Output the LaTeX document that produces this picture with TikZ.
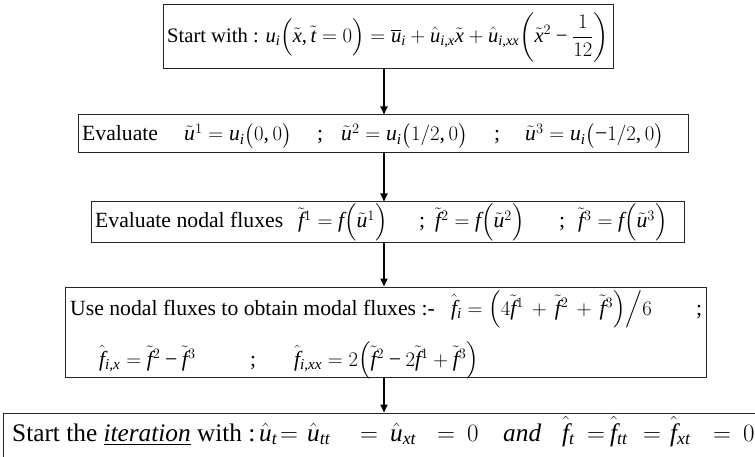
\documentclass[tikz,border=0pt]{standalone}
\usepackage{amsmath}
\usepackage{fontspec}
\setmainfont{Liberation Serif}
\newfontfamily\mtimesfam[NFSSFamily=mtimes]{Liberation Serif}
\DeclareSymbolFont{tletters}{TU}{mtimes}{m}{it}
\DeclareSymbolFont{tupright}{TU}{mtimes}{m}{n}
\DeclareMathSymbol{u}{\mathalpha}{tletters}{`u}
\DeclareMathSymbol{f}{\mathalpha}{tletters}{`f}
\DeclareMathSymbol{i}{\mathalpha}{tletters}{`i}
\DeclareMathSymbol{t}{\mathalpha}{tletters}{`t}
\DeclareMathSymbol{x}{\mathalpha}{tletters}{`x}
\DeclareMathSymbol{0}{\mathalpha}{tupright}{`0}
\DeclareMathSymbol{1}{\mathalpha}{tupright}{`1}
\DeclareMathSymbol{2}{\mathalpha}{tupright}{`2}
\DeclareMathSymbol{3}{\mathalpha}{tupright}{`3}
\DeclareMathSymbol{4}{\mathalpha}{tupright}{`4}
\DeclareMathSymbol{6}{\mathalpha}{tupright}{`6}
\DeclareMathSymbol{/}{\mathord}{tupright}{`/}
\DeclareMathSymbol{,}{\mathpunct}{tupright}{`,}
\DeclareMathSymbol{=}{\mathrel}{tupright}{`=}
\DeclareMathSymbol{+}{\mathbin}{tupright}{`+}
\Umathcode`\-=2 \symtupright "2212
\newcommand\putseg[2]{\makebox[#1pt][l]{#2}}
\usetikzlibrary{arrows.meta}
\tikzset{
  stepbox/.style={draw=black!85, line width=1pt, inner sep=0pt, anchor=center},
  flowarrow/.style={line width=1.8pt, -{Triangle[length=8pt,width=7pt]}},
  boxtext/.style={inner sep=0pt, font=\fontsize{21.7}{26}\selectfont},
  firsttext/.style={inner sep=0pt, font=\fontsize{20.6}{25}\selectfont},
  bigtext/.style={inner sep=0pt, font=\fontsize{25.3}{30}\selectfont}
}
\begin{document}
\begin{tikzpicture}[x=1pt,y=-1pt]
\clip (0,0) rectangle (755,457);
\useasboundingbox (0,0) rectangle (755,457);
\coordinate (ax) at (384,0);
% boxes
\node[stepbox, minimum width=450pt, minimum height=64pt] (b1) at (388,37) {};
\node[stepbox, minimum width=610pt, minimum height=38pt] (b2) at (383,134) {};
\node[stepbox, minimum width=593pt, minimum height=41pt] (b3) at (387.5,222.5) {};
\node[stepbox, minimum width=641pt, minimum height=90pt] (b4) at (385.5,332) {};
\node[stepbox, minimum width=817pt, minimum height=87pt] (b5) at (411.5,456.5) {};
% texts
\node[firsttext, anchor=base] (t1) at (388,42.5)
  {Start with : $u_i\Bigl(\tilde{x},\tilde{t}=0\Bigr)=\overline{u}_i+\hat{u}_{i,x}\tilde{x}+\hat{u}_{i,xx}\biggl(\tilde{x}^2-\dfrac{1}{12}\biggr)$};
\node[boxtext, anchor=base west] (t2) at (82,141)
  {\putseg{102}{Evaluate}\putseg{133}{$\tilde{u}^1=u_i\bigl(0,0\bigr)$}\putseg{24}{;}\putseg{153}{$\tilde{u}^2=u_i\bigl(1/2,0\bigr)$}\putseg{31}{;}$\tilde{u}^3=u_i\bigl(-1/2,0\bigr)$};
\node[boxtext, anchor=base west] (t3) at (95,228)
  {\putseg{203}{Evaluate nodal fluxes}\putseg{121}{$\tilde{f}^1=f\Bigl(\tilde{u}^1\Bigr)$}\putseg{16}{;}\putseg{124}{$\tilde{f}^2=f\Bigl(\tilde{u}^2\Bigr)$}\putseg{19}{;}$\tilde{f}^3=f\Bigl(\tilde{u}^3\Bigr)$};
\node[boxtext, anchor=base west] (t4a) at (70,315)
  {\putseg{381}{Use nodal fluxes to obtain modal fluxes :-}\putseg{245}{$\hat{f}_i=\Bigl(4\tilde{f}^1\,+\,\tilde{f}^2\,+\,\tilde{f}^3\Bigr)\Big/6$};};
\node[boxtext, anchor=base west] (t4b) at (99,366)
  {\putseg{151}{$\hat{f}_{i,x}=\tilde{f}^2-\tilde{f}^3$}\putseg{44}{;}$\hat{f}_{i,xx}=2\Bigl(\tilde{f}^2-2\tilde{f}^1+\tilde{f}^3\Bigr)$};
\node[bigtext, anchor=base west] (t5) at (12,441)
  {\putseg{247}{Start the \underline{\textit{iteration}} with :}\putseg{21}{$\hat{u}_t$}\putseg{27}{$=$}\putseg{53}{$\hat{u}_{tt}$}\putseg{30}{$=$}\putseg{47}{$\hat{u}_{xt}$}\putseg{30}{$=$}\putseg{36}{$0$}\putseg{59}{\textit{and}}\putseg{25}{$\hat{f}_t$}\putseg{23}{$=$}\putseg{33}{$\hat{f}_{tt}$}\putseg{27}{$=$}\putseg{43}{$\hat{f}_{xt}$}\putseg{30}{$=$}$0$};
% connectors
\draw[flowarrow] (b1.south -| ax) -- (b2.north -| ax);
\draw[flowarrow] (b2.south -| ax) -- (b3.north -| ax);
\draw[flowarrow] (b3.south -| ax) -- (b4.north -| ax);
\draw[flowarrow] (b4.south -| ax) -- (b5.north -| ax);
\end{tikzpicture}
\end{document}
